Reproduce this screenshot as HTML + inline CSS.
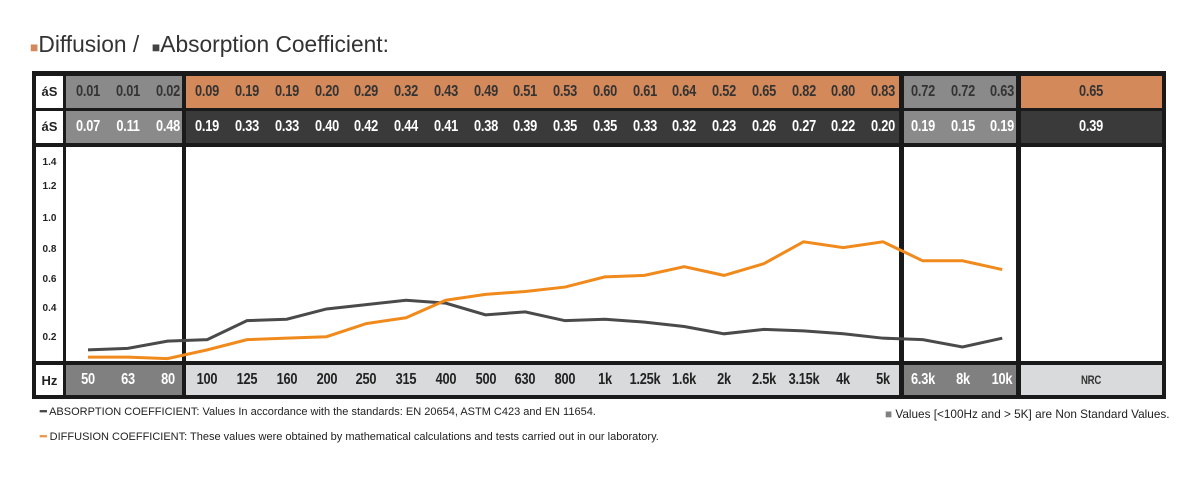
<!DOCTYPE html>
<html><head><meta charset="utf-8"><style>
body{margin:0;width:1199px;height:485px;background:#fff;position:relative;overflow:hidden;font-family:"Liberation Sans",sans-serif}
.a{position:absolute}
.c{position:absolute;text-align:center;width:40px;font-weight:bold;font-size:16px;transform:scaleX(0.8);letter-spacing:-0.3px}
</style></head><body>
<div class="a" style="left:30px;top:31px;font-size:23px;color:#333;transform-origin:0 0;transform:scaleX(0.99)"><span style="color:#d4895a;font-size:14px">■</span>Diffusion / &nbsp;<span style="color:#444;font-size:14px">■</span>Absorption Coefficient:</div>

<div class="a" style="left:32px;top:71px;width:1134px;height:328px;background:#1a1a1a"></div>
<div class="a" style="left:36px;top:76px;width:27px;height:32px;background:#fff"></div>
<div class="a" style="left:36px;top:111px;width:27px;height:32px;background:#fff"></div>
<div class="a" style="left:36px;top:147px;width:27px;height:214px;background:#fff"></div>
<div class="a" style="left:36px;top:365px;width:27px;height:30px;background:#fff"></div>
<div class="a" style="left:66px;top:76px;width:116px;height:32px;background:#8a8a8b"></div>
<div class="a" style="left:186px;top:76px;width:713px;height:32px;background:#d4895a"></div>
<div class="a" style="left:904px;top:76px;width:112px;height:32px;background:#8a8a8b"></div>
<div class="a" style="left:1021px;top:76px;width:141px;height:32px;background:#d4895a"></div>
<div class="a" style="left:66px;top:111px;width:116px;height:32px;background:#8a8a8b"></div>
<div class="a" style="left:186px;top:111px;width:713px;height:32px;background:#3a3a3a"></div>
<div class="a" style="left:904px;top:111px;width:112px;height:32px;background:#8a8a8b"></div>
<div class="a" style="left:1021px;top:111px;width:141px;height:32px;background:#3a3a3a"></div>
<div class="a" style="left:66px;top:147px;width:116px;height:214px;background:#fff"></div>
<div class="a" style="left:186px;top:147px;width:713px;height:214px;background:#fff"></div>
<div class="a" style="left:904px;top:147px;width:112px;height:214px;background:#fff"></div>
<div class="a" style="left:1021px;top:147px;width:141px;height:214px;background:#fff"></div>
<div class="a" style="left:66px;top:365px;width:116px;height:30px;background:#808081"></div>
<div class="a" style="left:186px;top:365px;width:713px;height:30px;background:#d9dadb"></div>
<div class="a" style="left:904px;top:365px;width:112px;height:30px;background:#808081"></div>
<div class="a" style="left:1021px;top:365px;width:141px;height:30px;background:#d9dadb"></div>

<div class="a" style="left:36px;top:84px;width:27px;text-align:center;font-weight:bold;font-size:13px;color:#222">áS</div>
<div class="a" style="left:36px;top:119px;width:27px;text-align:center;font-weight:bold;font-size:13px;color:#222">áS</div>
<div class="a" style="left:36px;top:373px;width:27px;text-align:center;font-weight:bold;font-size:13px;color:#222">Hz</div>
<div class="a" style="left:36px;top:150px;width:27px;font-weight:bold;font-size:10px;color:#222;text-align:center">
<div style="position:absolute;top:7px;width:27px">1.4</div><div style="position:absolute;top:31px;width:27px">1.2</div><div style="position:absolute;top:63px;width:27px">1.0</div><div style="position:absolute;top:94px;width:27px">0.8</div><div style="position:absolute;top:124px;width:27px">0.6</div><div style="position:absolute;top:153px;width:27px">0.4</div><div style="position:absolute;top:182px;width:27px">0.2</div></div>

<div id="t"></div>
<div class="c" style="left:1071px;top:83px;color:#333">0.65</div>
<div class="c" style="left:1071px;top:118px;color:#fff">0.39</div>
<div class="c" style="left:1071px;top:373px;color:#333;font-size:12px">NRC</div>

<svg class="a" style="left:0;top:0" width="1199" height="485">
<polyline id="ab" fill="none" stroke="#4a4a4a" stroke-width="3"/>
<polyline id="df" fill="none" stroke="#f08a1c" stroke-width="3"/>
</svg>

<div class="a" style="left:40px;top:405px;font-size:11px;color:#222"><b style="color:#444">━</b> ABSORPTION COEFFICIENT: Values In accordance with the standards: EN 20654, ASTM C423 and EN 11654.</div>
<div class="a" style="left:40px;top:430px;font-size:11px;color:#222"><b style="color:#e8974a">━</b> DIFFUSION COEFFICIENT: These values were obtained by mathematical calculations and tests carried out in our laboratory.</div>
<div class="a" style="left:885px;top:407px;font-size:12px;color:#222;transform-origin:0 0;transform:scaleX(0.98)"><span style="color:#808081">■</span> Values [&lt;100Hz and &gt; 5K] are Non Standard Values.</div>

<script>
var hz=["50","63","80","100","125","160","200","250","315","400","500","630","800","1k","1.25k","1.6k","2k","2.5k","3.15k","4k","5k","6.3k","8k","10k"];
var d=[0.01,0.01,0.02,0.09,0.19,0.19,0.20,0.29,0.32,0.43,0.49,0.51,0.53,0.60,0.61,0.64,0.52,0.65,0.82,0.80,0.83,0.72,0.72,0.63];
var a=[0.07,0.11,0.48,0.19,0.33,0.33,0.40,0.42,0.44,0.41,0.38,0.39,0.35,0.35,0.33,0.32,0.23,0.26,0.27,0.22,0.20,0.19,0.15,0.19];
var dl=[0.04,0.04,0.03,0.09,0.16,0.17,0.18,0.27,0.31,0.43,0.47,0.49,0.52,0.59,0.60,0.66,0.60,0.68,0.83,0.79,0.83,0.70,0.70,0.64];
var al=[0.09,0.10,0.15,0.16,0.29,0.30,0.37,0.40,0.43,0.41,0.33,0.35,0.29,0.30,0.28,0.25,0.20,0.23,0.22,0.20,0.17,0.16,0.11,0.17];
var h="",pa=[],pd=[];
for(var i=0;i<24;i++){var x=88+i*39.75;var ns=(i<3||i>20);
h+='<div class="c" style="left:'+(x-20)+'px;top:83px;color:#333">'+d[i].toFixed(2)+'</div>';
h+='<div class="c" style="left:'+(x-20)+'px;top:118px;color:#fff">'+a[i].toFixed(2)+'</div>';
h+='<div class="c" style="left:'+(x-20)+'px;top:371px;color:'+(ns?'#fff':'#222')+'">'+hz[i]+'</div>';
pa.push(x+','+(363-146*al[i]));pd.push(x+','+(363-146*dl[i]));}
document.getElementById('t').innerHTML=h;
document.getElementById('ab').setAttribute('points',pa.join(' '));
document.getElementById('df').setAttribute('points',pd.join(' '));
</script>
</body></html>
